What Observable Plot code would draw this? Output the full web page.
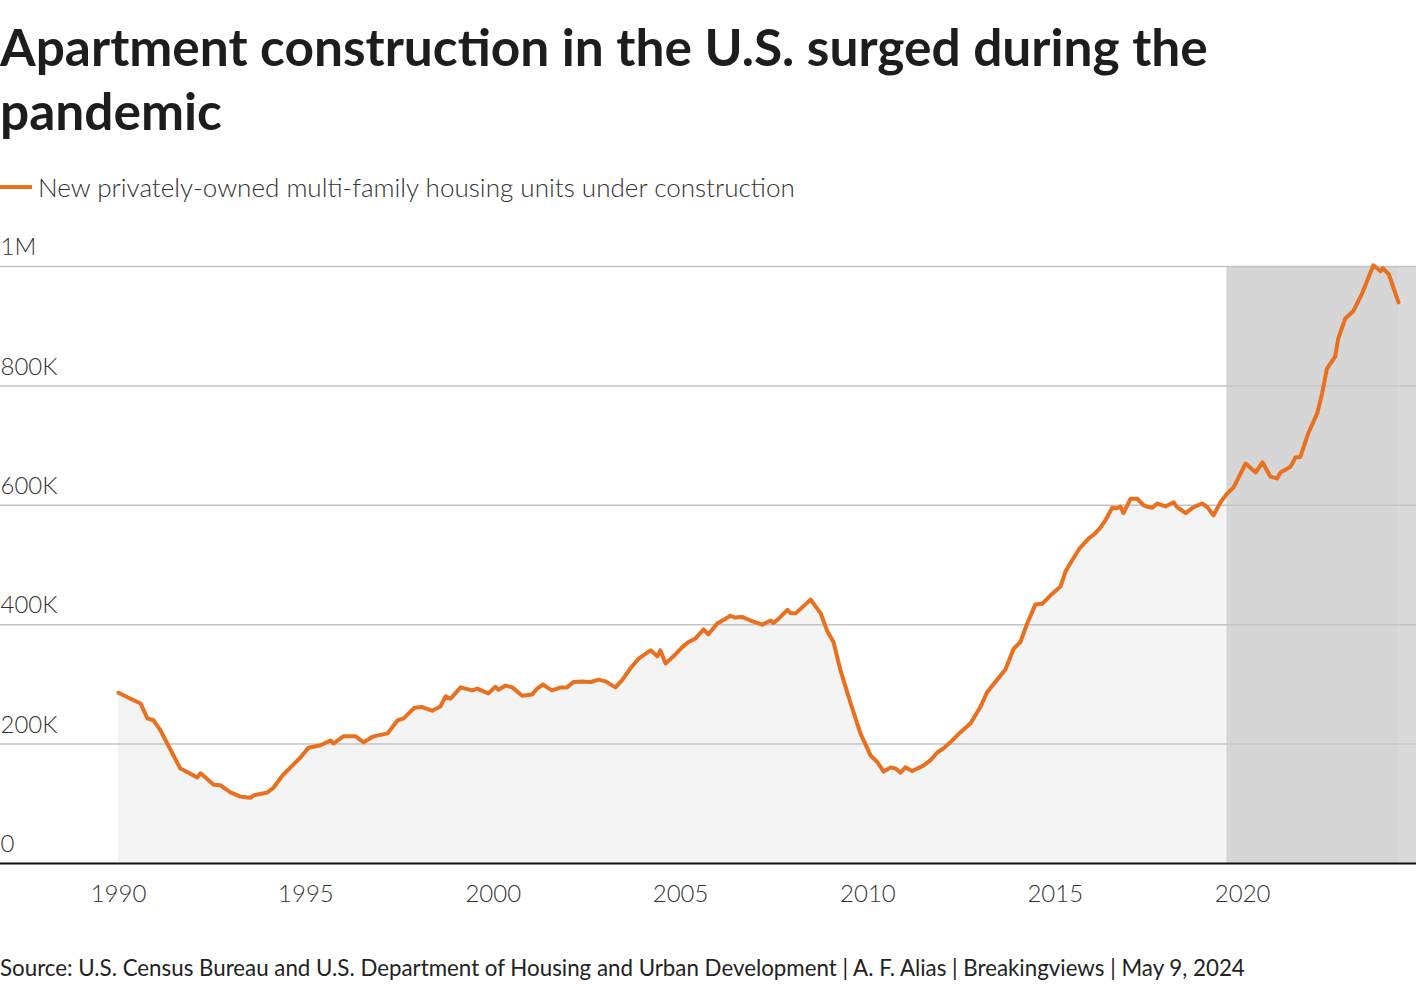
<!DOCTYPE html>
<html>
<head>
<meta charset="utf-8">
<script src="https://cdn.jsdelivr.net/npm/d3@7"></script>
<script src="https://cdn.jsdelivr.net/npm/@observablehq/plot@0.6"></script>
<style>
  html, body { margin: 0; padding: 0; background: #fff; }
  body { width: 1420px; height: 988px; position: relative; overflow: hidden; font-family: Lato, "Noto Sans", sans-serif; color: #1a1a1a; }
  #title { position: absolute; left: 0; top: 0; margin: 0; font-weight: 700; white-space: nowrap; color: #1d1d1d; }
  #legend { position: absolute; left: 0; top: 170px; height: 34px; display: flex; align-items: center; white-space: nowrap; color: #333; font-weight: 300; }
  #legend .sw { display: inline-block; width: 32px; height: 4px; background: #e8701e; margin-right: 6px; }
  #chart { position: absolute; left: 0; top: 230px; }
  #caption { position: absolute; left: 0; top: 952px; white-space: nowrap; color: #222; }
</style>
</head>
<body>
<h1 id="title"></h1>
<div id="legend"><span class="sw"></span><span id="legendText"></span></div>
<div id="chart"></div>
<div id="caption"></div>
<script>
// ---- Data (decimal year, thousands of units) ----
const years = [
  1990.00,1990.32,1990.59,1990.77,1990.93,1991.12,1991.30,1991.65,1991.87,1992.10,
  1992.19,1992.54,1992.72,1992.99,1993.25,1993.52,1993.60,1993.97,1994.14,1994.37,
  1994.59,1994.86,1995.07,1995.39,1995.66,1995.74,1996.00,1996.33,1996.54,1996.81,
  1997.18,1997.45,1997.61,1997.90,1998.10,1998.37,1998.59,1998.73,1998.86,1999.13,
  1999.44,1999.57,1999.87,2000.06,2000.14,2000.33,2000.51,2000.77,2001.04,2001.17,
  2001.33,2001.44,2001.57,2001.80,2001.97,2002.14,2002.37,2002.60,2002.81,2003.00,
  2003.26,2003.44,2003.66,2003.88,2004.20,2004.38,2004.46,2004.60,2004.81,2005.04,
  2005.21,2005.40,2005.61,2005.74,2005.98,2006.20,2006.33,2006.45,2006.64,2006.87,
  2007.18,2007.40,2007.48,2007.62,2007.85,2007.94,2008.07,2008.47,2008.74,2008.91,
  2009.08,2009.27,2009.54,2009.80,2010.07,2010.25,2010.42,2010.61,2010.74,2010.87,
  2011.00,2011.18,2011.48,2011.67,2011.85,2012.02,2012.20,2012.47,2012.74,2013.00,
  2013.18,2013.45,2013.67,2013.89,2014.07,2014.25,2014.47,2014.65,2014.92,2015.14,
  2015.28,2015.45,2015.65,2015.90,2016.05,2016.21,2016.34,2016.52,2016.65,2016.74,
  2016.82,2017.01,2017.19,2017.36,2017.49,2017.59,2017.72,2017.94,2018.16,2018.25,
  2018.48,2018.69,2018.92,2019.06,2019.22,2019.41,2019.59,2019.76,2020.08,2020.35,
  2020.53,2020.74,2020.92,2021.01,2021.27,2021.41,2021.54,2021.76,2021.99,2022.12,
  2022.25,2022.47,2022.55,2022.74,2022.96,2023.19,2023.49,2023.68,2023.74,2023.90,
  2024.16
];
const units = [
  286,276,268,243,240,223,201,159,152,144,
  151,132,131,119,112,110,114,119,127,147,
  161,178,194,198,206,201,213,213,203,213,
  218,240,243,261,262,256,263,280,276,295,
  290,293,285,296,291,298,295,281,283,293,
  300,295,290,295,295,304,305,304,308,305,
  295,307,327,343,357,347,357,335,347,362,
  371,377,392,384,402,410,415,412,413,407,
  400,407,403,410,425,419,419,442,419,390,
  371,323,268,218,181,170,154,161,159,152,
  161,155,164,173,186,193,203,220,235,262,
  287,308,325,360,371,402,434,435,452,464,
  490,508,528,545,552,563,575,596,595,598,
  587,611,611,600,597,596,603,598,605,597,
  587,597,603,597,583,605,620,630,670,655,
  672,648,645,655,664,680,681,722,754,787,
  829,849,879,913,926,955,1002,992,997,987,
  940
];
const yTicks = [0, 200, 400, 600, 800, 1000];
const yLabels = ["0", "200K", "400K", "600K", "800K", "1M"];
const xTicks = [1990, 1995, 2000, 2005, 2010, 2015, 2020];
const shadeStart = 2019.58;   // pandemic-period shading
const xDomain = [1986.85, 2024.64];

const titleLines = ["Apartment construction in the U.S. surged during the", "pandemic"];
const legendLabel = "New privately-owned multi-family housing units under construction";
const captionText = "Source: U.S. Census Bureau and U.S. Department of Housing and Urban Development | A. F. Alias | Breakingviews | May 9, 2024";

const data = years.map((t, i) => ({t, v: units[i]}));
const lastT = years[years.length - 1];

// ---- Fit text widths to the reference ----
const ctx = document.createElement("canvas").getContext("2d");
function fit(text, weight, target) {
  ctx.font = `${weight} 100px Lato`;
  return 100 * target / ctx.measureText(text).width;
}
const title = document.getElementById("title");
const ts = fit(titleLines[0], 700, 1208);
title.style.fontSize = ts + "px";
title.style.lineHeight = "64px";
title.style.paddingTop = (66 - 32 - ts * 0.987 + ts * 0.6) + "px";
title.innerHTML = titleLines.join("<br>");

const lt = document.getElementById("legendText");
lt.textContent = legendLabel;
lt.style.fontSize = fit(legendLabel, 300, 759) + "px";

const cap = document.getElementById("caption");
cap.textContent = captionText;
cap.style.fontSize = fit(captionText, 400, 1248) + "px";
cap.style.lineHeight = "32px";

// ---- Chart ----
const chart = Plot.plot({
  width: 1420,
  height: 683,
  marginLeft: 0,
  marginRight: 4,
  marginTop: 36,
  marginBottom: 50,
  style: {fontFamily: "Lato, sans-serif", background: "transparent"},
  x: {domain: xDomain, axis: null},
  y: {domain: [0, 1000], axis: null},
  marks: [
    Plot.areaY(data, {x: "t", y: "v", fill: "#f4f4f4"}),
    Plot.rectY([{x1: shadeStart, x2: lastT}], {x1: "x1", x2: "x2", y1: 0, y2: 1000, fill: "#d6d6d6"}),
    Plot.rectY([{x1: lastT, x2: xDomain[1]}], {x1: "x1", x2: "x2", y1: 0, y2: 1000, fill: "#dadada"}),
    Plot.ruleY(yTicks.filter(d => d > 0), {stroke: "#c4c4c4", strokeWidth: 1.5}),
    Plot.ruleY([0], {stroke: "#111", strokeWidth: 2}),
    Plot.lineY(data, {x: "t", y: "v", stroke: "#e8701e", strokeWidth: 4, strokeLinejoin: "round", strokeLinecap: "round"}),
    Plot.text(yTicks, {y: d => d, text: (d, i) => yLabels[i], frameAnchor: "left", textAnchor: "start", dy: -19, fontSize: 24, fontWeight: 300, fill: "#333"}),
    Plot.text(xTicks, {x: d => d, text: d => String(d), frameAnchor: "bottom", dy: 38, fontSize: 24, fontWeight: 300, fill: "#333"})
  ]
});
document.getElementById("chart").append(chart);
</script>
</body>
</html>
